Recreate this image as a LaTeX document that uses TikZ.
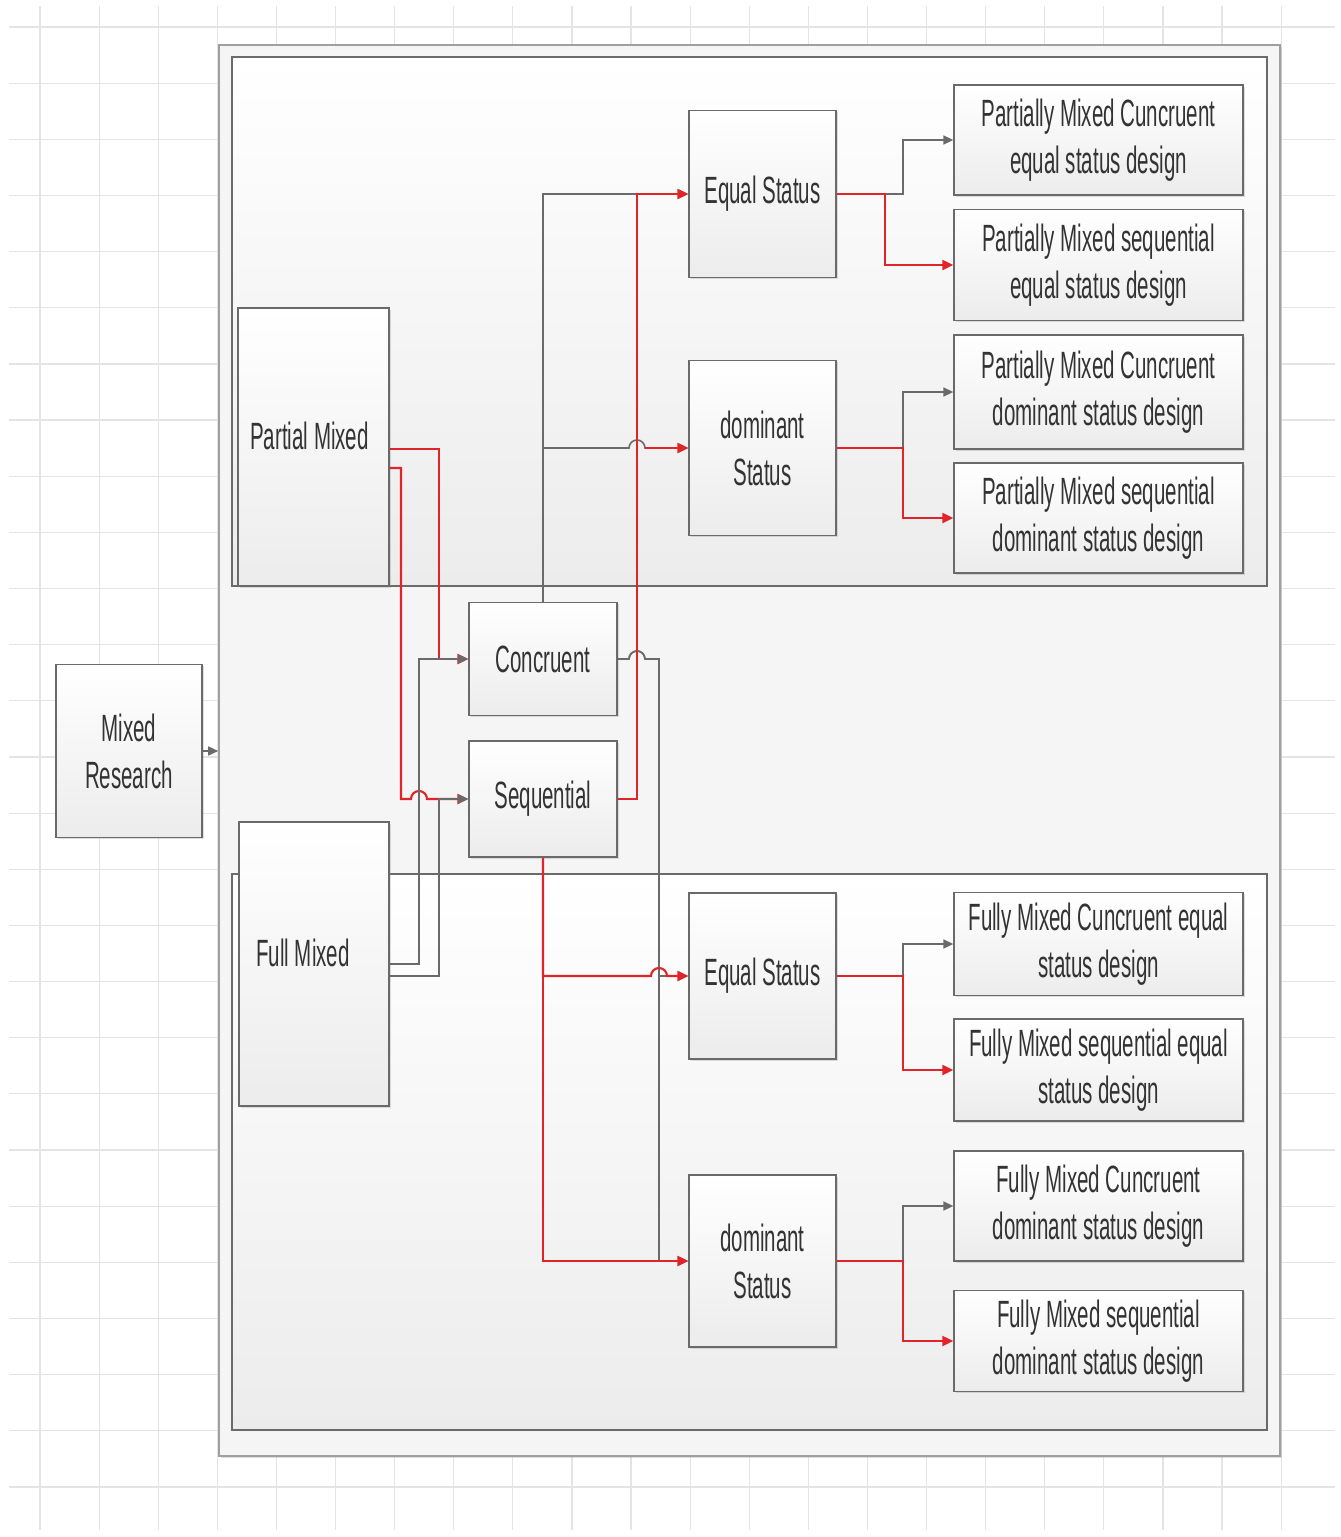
\documentclass[tikz,border=0pt]{standalone}
\usepackage{fontspec}
\setmainfont[FakeStretch=0.54]{Liberation Sans}
\usetikzlibrary{arrows.meta,calc,shadows}

\definecolor{inkgray}{HTML}{6A6A6A}
\definecolor{linkred}{HTML}{E0242A}
\definecolor{txt}{HTML}{333333}
\definecolor{gridc}{HTML}{E4E4E4}
\definecolor{framefill}{HTML}{F5F5F5}
\definecolor{panelbot}{HTML}{ECECEC}

\tikzset{
  x=1pt, y=-1pt,
  box/.style={draw=inkgray, line width=1.3pt, top color=white, bottom color=panelbot,
    text=txt, font=\fontsize{38}{47}\selectfont, align=center, inner sep=0pt,
    drop shadow={shadow xshift=1.5pt, shadow yshift=-1.5pt, opacity=0.25}},
  raised/.style={text height=28pt, text depth=24pt},
  outbox/.style={box, minimum width=289pt},
  statbox/.style={box, minimum width=147pt},
  panel/.style={draw=inkgray, line width=1.4pt, top color=white, bottom color=panelbot},
  gline/.style={draw=inkgray, line width=1.6pt},
  rline/.style={draw=linkred, line width=2.1pt},
  gtip/.style={-{Triangle[length=10pt,width=9pt]}},
  rtip/.style={-{Triangle[length=11pt,width=10pt]}},
}

\begin{document}
\begin{tikzpicture}
\useasboundingbox (0,0) rectangle (1341,1537);
\fill[white] (0,0) rectangle (1341,1537);

% background grid
\begin{scope}
  \clip (9,6) rectangle (1335,1530);
  \foreach \i in {0,...,22}
    \draw[gridc, line width=1.2pt] (40+59.1*\i,6) -- (40+59.1*\i,1530);
  \foreach \j in {0,...,27}
    \draw[gridc, line width=1.2pt] (9,27+56.15*\j) -- (1335,27+56.15*\j);
\end{scope}

% outer frame and the two panels
\node[draw=gray!75, line width=1.6pt, fill=framefill, minimum width=1061pt, minimum height=1411pt,
      inner sep=0pt, drop shadow={shadow xshift=1.5pt, shadow yshift=-2pt, opacity=0.25}]
      (frame) at (749.5,750.5) {};
\draw[panel] (232,57) rectangle (1267,586);
\draw[panel] (232,874) rectangle (1267,1430);

% nodes
\node[box, minimum width=146pt, minimum height=173pt] (mr) at (129,751) {Mixed\\Research};
\node[box, raised, minimum width=151pt, minimum height=278pt] (pm) at (313.5,447) {\hbox{Partial Mixed\kern8pt}};
\node[box, raised, minimum width=150pt, minimum height=284pt] (fm) at (314,964) {\hbox{Full Mixed\kern22pt}};
\node[box, minimum width=148pt, minimum height=113pt] (con) at (543,659) {Concruent};
\node[box, minimum width=148pt, minimum height=116pt] (seq) at (543,799) {Sequential};

\node[statbox, minimum height=167pt] (eq1) at (762.5,194) {Equal Status};
\node[statbox, minimum height=175pt] (dm1) at (762.5,448) {dominant\\Status};
\node[statbox, minimum height=166pt] (eq2) at (762.5,976) {Equal Status};
\node[statbox, minimum height=172pt] (dm2) at (762.5,1261) {dominant\\Status};

\node[outbox, minimum height=110pt] (o1) at (1098.5,140) {Partially Mixed Cuncruent\\equal status design};
\node[outbox, minimum height=111pt] (o2) at (1098.5,265) {Partially Mixed sequential\\equal status design};
\node[outbox, minimum height=114pt] (o3) at (1098.5,392) {Partially Mixed Cuncruent\\dominant status design};
\node[outbox, minimum height=110pt] (o4) at (1098.5,518) {Partially Mixed sequential\\dominant status design};
\node[outbox, minimum height=103pt] (o5) at (1098.5,944) {Fully Mixed Cuncruent equal\\status design};
\node[outbox, minimum height=102pt] (o6) at (1098.5,1070) {Fully Mixed sequential equal\\status design};
\node[outbox, minimum height=110pt] (o7) at (1098.5,1206) {Fully Mixed Cuncruent\\dominant status design};
\node[outbox, minimum height=101pt] (o8) at (1098.5,1341) {Fully Mixed sequential\\dominant status design};

% vertical bus positions
\coordinate (xR) at (401,0);
\coordinate (xG) at (419,0);
\coordinate (xA) at (439,0);
\coordinate (xS) at (637,0);
\coordinate (xC) at (659,0);
\coordinate (xT) at (885,0);
\coordinate (xJ) at (903,0);

% Mixed Research into the frame
\draw[gline,gtip] (mr.east) -- (mr.east -| frame.west);

% Partial Mixed -> Concruent / Sequential
\draw[rline,rtip] ([yshift=-2pt]pm.east) -| (xA |- con.west) -- (con.west);
\draw[rline,rtip] ([yshift=-21pt]pm.east) -| (xR |- seq.west)
  -- ($(xG |- seq.west)+(-8,0)$) arc[start angle=180,end angle=0,radius=8pt] -- (seq.west);

% Full Mixed -> Concruent / Sequential
\draw[gline,gtip] (fm.east) -| (xG |- con.west) -- (con.west);
\draw[gline,gtip] ([yshift=-12pt]fm.east) -| (xA |- seq.west) -- (seq.west);

% Concruent -> status boxes
\draw[gline,gtip] (con.north) |- (eq1.west);
\draw[gline,gtip] (con.north) -- (con.north |- dm1.west)
  -- ($(xS |- dm1.west)+(-8,0)$) arc[start angle=180,end angle=0,radius=8pt] -- (dm1.west);
\draw[gline,gtip] (con.east) -- ($(xS |- con.east)+(-8,0)$) arc[start angle=180,end angle=0,radius=8pt]
  -- (xC |- con.east) |- (eq2.west);
\draw[gline,gtip] (con.east) -- ($(xS |- con.east)+(-8,0)$) arc[start angle=180,end angle=0,radius=8pt]
  -- (xC |- con.east) |- (dm2.west);

% Sequential -> status boxes
\draw[rline,rtip] (seq.east) -| (xS |- eq1.west) -- (eq1.west);
\draw[rline,rtip] ($(xS |- dm1.west)+(8,0)$) -- (dm1.west);
\draw[rline,rtip] (seq.south) -- (seq.south |- eq2.west)
  -- ($(xC |- eq2.west)+(-8,0)$) arc[start angle=180,end angle=0,radius=8pt] -- (eq2.west);
\draw[rline,rtip] (seq.south) |- (dm2.west);

% status boxes -> designs
\draw[gline,gtip] (eq1.east) -- (eq1.east -| xJ) |- (o1.west);
\draw[rline,rtip] (eq1.east) -- (eq1.east -| xT) |- (o2.west);
\draw[gline,gtip] (dm1.east) -- (dm1.east -| xJ) |- (o3.west);
\draw[rline,rtip] (dm1.east) -- (dm1.east -| xJ) |- (o4.west);
\draw[gline,gtip] (eq2.east) -- (eq2.east -| xJ) |- (o5.west);
\draw[rline,rtip] (eq2.east) -- (eq2.east -| xJ) |- (o6.west);
\draw[gline,gtip] (dm2.east) -- (dm2.east -| xJ) |- (o7.west);
\draw[rline,rtip] (dm2.east) -- (dm2.east -| xJ) |- (o8.west);
\end{tikzpicture}
\end{document}
